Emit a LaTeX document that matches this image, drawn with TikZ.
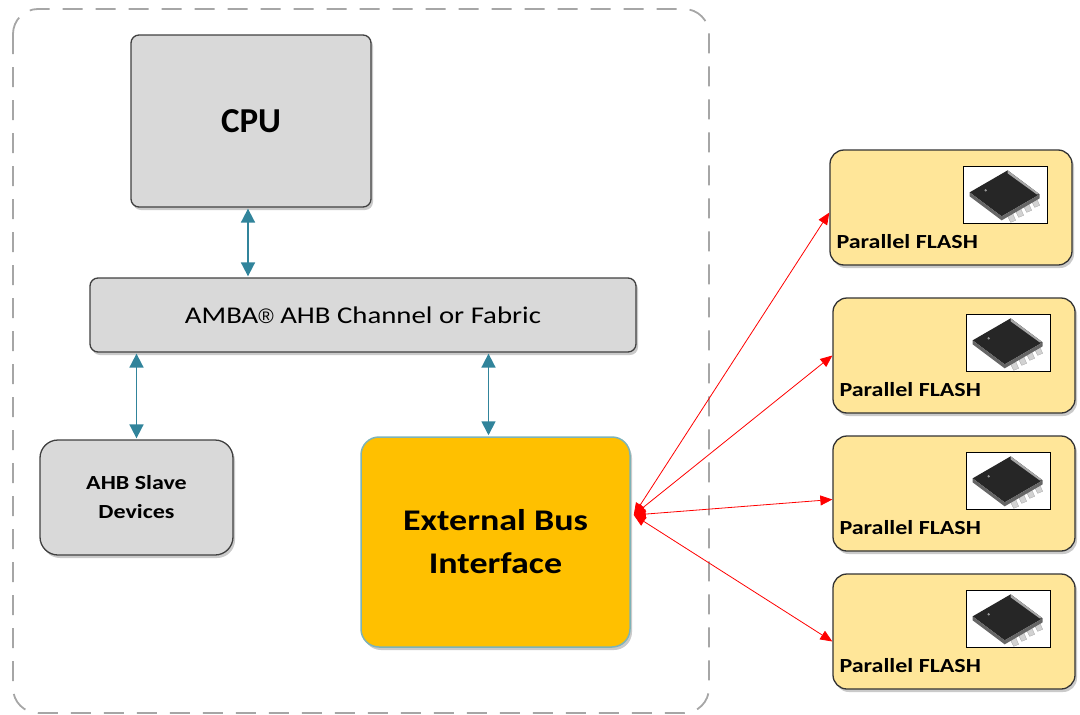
\documentclass[tikz,border=0pt]{standalone}
\usepackage{fontspec}
\setmainfont{Carlito}[FakeStretch=1.2]
\newfontfamily\cpufont{Carlito}
\newfontfamily\regfont{Liberation Sans}
\usetikzlibrary{shadows,arrows.meta}
\definecolor{boxgray}{HTML}{D9D9D9}
\definecolor{ebifill}{HTML}{FFC000}
\definecolor{ebiborder}{HTML}{7DB3B8}
\definecolor{flashfill}{HTML}{FFE699}
\definecolor{tealc}{HTML}{31849B}
\definecolor{dashgray}{HTML}{A6A6A6}
\begin{document}
\begin{tikzpicture}[x=1pt,y=-1pt,
  shade/.style={drop shadow={shadow xshift=2pt,shadow yshift=-3pt,opacity=0.35,fill=black!60}},
  graybox/.style={draw=black!75,line width=1.3pt,rounded corners=8pt,fill=boxgray,shade,inner sep=0pt,align=center},
  ebibox/.style={draw=ebiborder,line width=1.5pt,rounded corners=18pt,fill=ebifill,shade,inner sep=0pt,align=center},
  flashbox/.style={draw=black!80,line width=1.3pt,rounded corners=14pt,fill=flashfill,shade,inner sep=0pt,minimum width=242pt,minimum height=115pt},
  flashlabel/.style={anchor=south west,inner sep=0pt,font=\fontsize{20}{24}\selectfont\bfseries},
  tealarr/.style={draw=tealc,line width=1.8pt,{Triangle[length=14pt,width=14pt]}-{Triangle[length=14pt,width=14pt]},shorten <=1pt,shorten >=1pt},
  redarr/.style={draw=red,line width=0.8pt,{Triangle[length=12pt,width=10pt]}-{Triangle[length=12pt,width=10pt]}},
  outline/.style={draw=dashgray,line width=1.8pt,dash pattern=on 20pt off 13pt,rounded corners=25pt},
  chip/.pic={
    \fill[white] (0,0) rectangle (84,57);
    \draw[black,line width=1.3pt] (0,0) rectangle (84,57);
    \foreach \i in {0,1,2,3}{
      \fill[gray!35,draw=gray!70,line width=0.3pt] ({44+\i*8},{50-\i*5}) -- ({49+\i*8},{47-\i*5}) -- ({52+\i*8},{54-\i*5}) -- ({47+\i*8},{56-\i*5}) -- cycle;
    }
    \fill[black!85] (6,26) -- (44,4) -- (76,28) -- (38,50) -- cycle;
    \fill[black!60] (38,50) -- (76,28) -- (76,32) -- (38,54) -- (6,30) -- (6,26) -- cycle;
    \fill[gray!70] (44,4) -- (76,28) -- (73,28) -- (44,7) -- cycle;
    \fill[black!40] (22,24) circle (1.3pt);
  }
]
\useasboundingbox (0,0) rectangle (1080,715);
\draw[outline] (13,9) rectangle (709,713);

\node[graybox,minimum width=240pt,minimum height=172pt,font=\cpufont\fontsize{35}{42}\selectfont\bfseries] (cpu) at (251,121) {CPU};
\node[graybox,minimum width=546pt,minimum height=74pt,font=\fontsize{24}{28}\selectfont] (amba) at (363,315) {AMBA{\regfont\fontsize{21}{24}\selectfont ®} AHB Channel or Fabric};
\node[graybox,rounded corners=18pt,minimum width=193pt,minimum height=115pt,font=\fontsize{20}{30}\selectfont\bfseries] (slave) at (136.5,497.5) {AHB Slave\\[-1pt]Devices};
\node[ebibox,minimum width=269pt,minimum height=210pt,font=\fontsize{30}{43}\selectfont\bfseries] (ebi) at (495.5,542) {External Bus\\Interface};

\node[flashbox] (f1) at (951,207.5) {};
\node[flashbox] (f2) at (954,355.5) {};
\node[flashbox] (f3) at (954,493.5) {};
\node[flashbox] (f4) at (954,631.5) {};
\foreach \f in {f1,f2,f3,f4}{
  \node[flashlabel] (\f-lab) at ([xshift=7pt,yshift=17pt]\f.south west) {Parallel FLASH};
  \pic at ([xshift=-109pt,yshift=-17pt]\f.north east) {chip};
}

\draw[tealarr] ([xshift=-3pt]cpu.south) -- ([xshift=-3pt]cpu.south |- amba.north);
\draw[tealarr] (slave.north) -- (slave.north |- amba.south);
\draw[tealarr] ([xshift=-7pt]ebi.north) -- ([xshift=-7pt]ebi.north |- amba.south);

\coordinate (hub) at ([xshift=3pt,yshift=27pt]ebi.east);
\draw[redarr] (hub) -- ([yshift=-5pt]f1.west);
\draw[redarr] (hub) -- (f2.west);
\draw[redarr] (hub) -- ([yshift=-6pt]f3.west);
\draw[redarr] (hub) -- ([yshift=-10pt]f4.west);
\end{tikzpicture}
\end{document}
